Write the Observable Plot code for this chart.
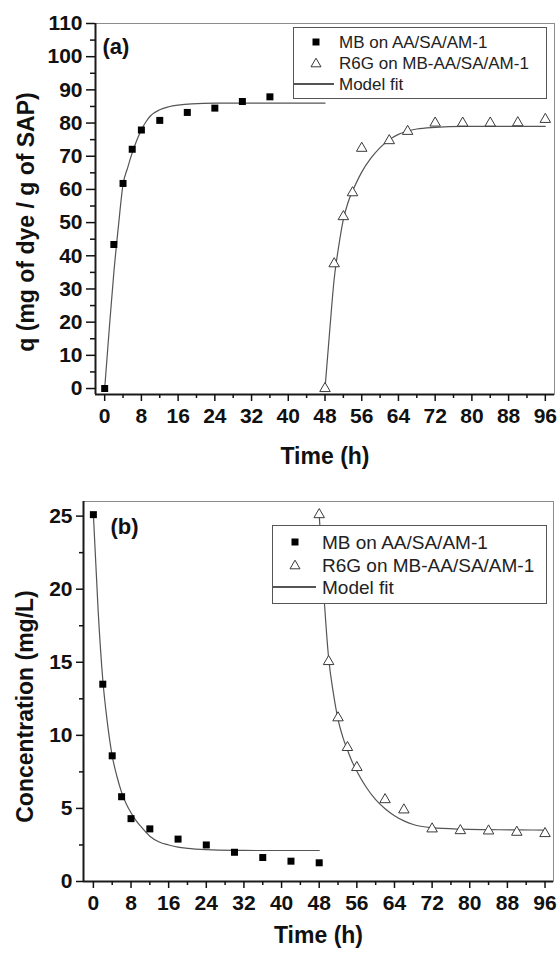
<!DOCTYPE html>
<html>
<head>
<meta charset="utf-8">
<script src="https://cdn.jsdelivr.net/npm/d3@7"></script>
<script src="https://cdn.jsdelivr.net/npm/@observablehq/plot@0.6"></script>
<style>
  body { margin: 0; background: #fff; }
  #wrap { position: relative; width: 558px; height: 956px; overflow: hidden;
          font-family: "Liberation Sans", Arial, sans-serif; color: #111; }
  .panel { position: absolute; left: 0; }
  .legend { position: absolute; background: #fff; border: 1.5px solid #555; box-sizing: border-box; }
  .lsym { position: absolute; }
  .ltext { position: absolute; white-space: nowrap; line-height: 1; color: #222; }
</style>
</head>
<body>
<div id="wrap"></div>
<script>
// ---------- shared tick values ----------
const xMajorTicks = [0, 8, 16, 24, 32, 40, 48, 56, 64, 72, 80, 88, 96];
const xMinorTicks = [4, 12, 20, 28, 36, 44, 52, 60, 68, 76, 84, 92];
const yMajorTop = [0, 10, 20, 30, 40, 50, 60, 70, 80, 90, 100, 110];
const yMinorTop = [5, 15, 25, 35, 45, 55, 65, 75, 85, 95, 105];
const yMajorBottom = [0, 5, 10, 15, 20, 25];
const yMinorBottom = [2.5, 7.5, 12.5, 17.5, 22.5];

const seriesNames = ["MB on AA/SA/AM-1", "R6G on MB-AA/SA/AM-1", "Model fit"];

// ---------- panel (a): adsorbed amount q ----------
const timeMBTop = [0, 2, 4, 6, 8, 12, 18, 24, 30, 36];
const qMB = [0, 43.4, 61.8, 72.1, 77.9, 80.8, 83.2, 84.5, 86.5, 87.9];
const timeR6GTop = [48, 50, 52, 54, 56, 62, 66, 72, 78, 84, 90, 96];
const qR6G = [0, 37.6, 51.8, 59.0, 72.4, 74.7, 77.5, 80.0, 80.0, 80.0, 80.1, 81.1];
const fitTimeMBTop = [0, 1, 2, 3, 4, 5, 6, 7, 8, 9, 10, 12, 14, 16, 19, 24, 30, 36, 42, 48];
const fitQMB = [0, 18, 35, 49, 61.5, 66.5, 71, 74.8, 78, 80.4, 82.2, 84, 84.9, 85.4, 85.8, 86, 86, 86, 86, 86];
const fitTimeR6GTop = [48, 49, 50, 51, 52, 53, 54, 55, 56, 58, 60, 62, 64, 66, 68, 72, 78, 84, 90, 96];
const fitQR6G = [0, 17, 33, 43, 51, 56, 59.5, 62.5, 65.2, 69.4, 72.6, 75, 76.6, 77.6, 78.2, 78.7, 79, 79, 79, 79];

// ---------- panel (b): concentration ----------
const timeMBBottom = [0, 2, 4, 6, 8, 12, 18, 24, 30, 36, 42, 48];
const cMB = [25.1, 13.5, 8.6, 5.8, 4.3, 3.6, 2.9, 2.5, 2.0, 1.64, 1.39, 1.28];
const timeR6GBottom = [48, 50, 52, 54, 56, 62, 66, 72, 78, 84, 90, 96];
const cR6G = [25.1, 15.05, 11.2, 9.17, 7.8, 5.6, 4.9, 3.6, 3.48, 3.46, 3.37, 3.28];
const fitTimeMBBottom = [0, 1, 2, 3, 4, 5, 6, 7, 8, 9, 10, 12, 14, 16, 18, 20, 24, 30, 36, 42, 48];
const fitCMB = [25.1, 18.6, 13.8, 10.8, 8.6, 7.2, 6.1, 5.3, 4.7, 4.2, 3.8, 3.1, 2.7, 2.5, 2.35, 2.27, 2.18, 2.13, 2.12, 2.12, 2.12];
const fitTimeR6GBottom = [48, 49, 50, 51, 52, 53, 54, 55, 56, 58, 60, 62, 64, 66, 68, 72, 78, 84, 90, 96];
const fitCR6G = [25.1, 19.6, 15.3, 12.9, 11.1, 9.9, 9.0, 8.2, 7.55, 6.45, 5.6, 4.98, 4.5, 4.15, 3.9, 3.68, 3.58, 3.55, 3.53, 3.52];

const zip = (ts, vs) => ts.map((t, i) => ({t, v: vs[i]}));

const FONT = '"Liberation Sans", Arial, sans-serif';

function makePanel(c) {
  return Plot.plot({
    width: 558, height: c.height,
    marginLeft: c.ml, marginRight: c.mr, marginTop: c.mt, marginBottom: c.mb,
    x: {domain: c.xDomain},
    y: {domain: c.yDomain},
    style: {fontFamily: FONT, color: "#111", background: "transparent", overflow: "visible"},
    marks: [
      Plot.frame({stroke: "#8c8c8c", strokeWidth: 1}),
      Plot.line(c.fitA, {x: "t", y: "v", stroke: "#555", strokeWidth: 1.2, curve: "monotone-x"}),
      Plot.line(c.fitB, {x: "t", y: "v", stroke: "#555", strokeWidth: 1.2, curve: "monotone-x"}),
      Plot.dot(c.ptsA, {x: "t", y: "v", symbol: "square", r: 3.95, fill: "#000", stroke: "none"}),
      Plot.dot(c.ptsB, {x: "t", y: "v", symbol: "triangle", r: 3.9, fill: "#fff", stroke: "#3a3a3a", strokeWidth: 1}),
      Plot.ruleX([c.xDomain[0]], {stroke: "#1a1a1a", strokeWidth: 2}),
      Plot.ruleY([c.yDomain[0]], {stroke: "#1a1a1a", strokeWidth: 2}),
      Plot.axisX(xMinorTicks, {tickSize: 4, tickFormat: () => "", label: null, strokeWidth: 1.5}),
      Plot.axisX(xMajorTicks, {tickSize: 7, tickPadding: 7, fontSize: 21, fontWeight: "bold", label: null, strokeWidth: 1.5}),
      Plot.axisY(c.yMinor, {tickSize: c.minorTick, tickFormat: () => "", label: null, strokeWidth: 1.5}),
      Plot.axisY(c.yMajor, {tickSize: c.majorTick, tickPadding: 4, fontSize: 21, fontWeight: "bold", label: null, strokeWidth: 1.5}),
      Plot.text([c.tag], {text: d => d, frameAnchor: "top-left", dx: c.tagDx, dy: c.tagDy, lineAnchor: "top",
                          textAnchor: "start", fontSize: 22, fontWeight: "bold", fill: "#111"}),
      Plot.text([c.xTitle], {text: d => d, frameAnchor: "bottom", dy: c.xTitleDy, lineAnchor: "middle",
                             textAnchor: "middle", fontSize: 23, fontWeight: "bold", fill: "#111"}),
      Plot.text([c.yTitle], {text: d => d, frameAnchor: "left", dx: c.yTitleDx, dy: c.yTitleDy, rotate: -90,
                             textAnchor: "middle", lineAnchor: "middle", fontSize: 23, fontWeight: "bold", fill: "#111"})
    ]
  });
}

const wrap = document.getElementById("wrap");

const panelA = makePanel({
  height: 478, ml: 95, mr: 4, mt: 23, mb: 84,
  xDomain: [-2, 98], yDomain: [-1.8, 110],
  yMajor: yMajorTop, yMinor: yMinorTop, majorTick: 9, minorTick: 5,
  ptsA: zip(timeMBTop, qMB), ptsB: zip(timeR6GTop, qR6G),
  fitA: zip(fitTimeMBTop, fitQMB), fitB: zip(fitTimeR6GTop, fitQR6G),
  tag: "(a)", tagDx: 7, tagDy: 15,
  xTitle: "Time (h)", xTitleDy: 62,
  yTitle: "q (mg of dye / g of SAP)", yTitleDx: -69, yTitleDy: 13
});
panelA.classList.add("panel");
panelA.style.top = "0px";
wrap.appendChild(panelA);

const panelB = makePanel({
  height: 478, ml: 83, mr: 5, mt: 23, mb: 75,
  xDomain: [-2.1, 97.8], yDomain: [0, 26],
  yMajor: yMajorBottom, yMinor: yMinorBottom, majorTick: 7, minorTick: 4,
  ptsA: zip(timeMBBottom, cMB), ptsB: zip(timeR6GBottom, cR6G),
  fitA: zip(fitTimeMBBottom, fitCMB), fitB: zip(fitTimeR6GBottom, fitCR6G),
  tag: "(b)", tagDx: 27, tagDy: 17,
  xTitle: "Time (h)", xTitleDy: 54,
  yTitle: "Concentration (mg/L)", yTitleDx: -58, yTitleDy: 15
});
panelB.classList.add("panel");
panelB.style.top = "478px";
wrap.appendChild(panelB);

// ---------- legends (HTML overlays) ----------
function symSvg(kind, cx, cy) {
  const ns = "http://www.w3.org/2000/svg";
  const s = document.createElementNS(ns, "svg");
  s.setAttribute("width", 16); s.setAttribute("height", 16);
  s.setAttribute("class", "lsym");
  s.style.left = (cx - 8) + "px"; s.style.top = (cy - 8) + "px";
  const p = document.createElementNS(ns, "path");
  if (kind === "square") {
    p.setAttribute("d", "M4.5,4.5h7v7h-7z"); p.setAttribute("fill", "#000");
  } else {
    p.setAttribute("d", "M8,3.2L13,11.8H3Z"); p.setAttribute("fill", "#fff");
    p.setAttribute("stroke", "#3a3a3a"); p.setAttribute("stroke-width", "1");
  }
  s.appendChild(p);
  return s;
}

function makeLegend(L) {
  const box = document.createElement("div");
  box.className = "legend";
  Object.assign(box.style, {left: L.left + "px", top: L.top + "px", width: L.w + "px", height: L.h + "px"});
  const kinds = ["square", "triangle", "line"];
  seriesNames.forEach((name, i) => {
    const cy = L.rows[i];
    if (kinds[i] === "line") {
      const ln = document.createElement("div");
      Object.assign(ln.style, {position: "absolute", left: "-1px", top: (cy - 0.6) + "px",
        width: L.lineW + "px", height: "1.2px", background: "#555"});
      box.appendChild(ln);
    } else {
      box.appendChild(symSvg(kinds[i], L.symX, cy));
    }
    const t = document.createElement("div");
    t.className = "ltext";
    t.textContent = name;
    Object.assign(t.style, {left: L.textX + "px", top: (cy - 0.49 * L.fs) + "px", fontSize: L.fs + "px"});
    box.appendChild(t);
  });
  wrap.appendChild(box);
}

makeLegend({left: 293, top: 27, w: 254, h: 72, rows: [14, 35, 56], symX: 22, lineW: 41, textX: 45, fs: 17});
makeLegend({left: 272, top: 525, w: 275, h: 79, rows: [16, 39, 61], symX: 22, lineW: 44, textX: 49, fs: 19});
</script>
</body>
</html>
